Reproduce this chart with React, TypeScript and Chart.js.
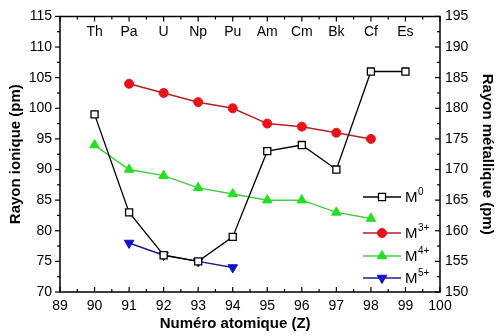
import React, { useEffect, useRef } from "react";
import { Chart, registerables } from "chart.js";
import { drawPoint } from "chart.js/helpers";

Chart.register(...registerables);

const atomicNumbers = [90, 91, 92, 93, 94, 95, 96, 97, 98, 99];
const elements = ["Th", "Pa", "U", "Np", "Pu", "Am", "Cm", "Bk", "Cf", "Es"];
const metallicRadius = [179, 163, 156, 155, 159, 173, 174, 170, 186, 186];
const m3Radius = [null, 104, 102.5, 101, 100, 97.5, 97, 96, 95, null];
const m4Radius = [94, 90, 89, 87, 86, 85, 85, 83, 82, null];
const m5Radius = [null, 78, 76, 75, 74, null, null, null, null, null];

const seriesLabels = [
  { base: "M", sup: "0" },
  { base: "M", sup: "3+" },
  { base: "M", sup: "4+" },
  { base: "M", sup: "5+" },
];

const xTitle = "Numéro atomique (Z)";
const yTitle = "Rayon ionique (pm)";
const y2Title = "Rayon métallique (pm)";

const FONT = "'Liberation Sans', Arial, Helvetica, sans-serif";

function toPoints(vals: (number | null)[]) {
  return atomicNumbers
    .map((z, i) => ({ x: z, y: vals[i] }))
    .filter((p) => p.y !== null);
}

const decorPlugin = {
  id: "decor",
  afterDraw(chart: any) {
    const { ctx, chartArea } = chart;
    const { left, right, top, bottom } = chartArea;
    const xs = chart.scales.x;
    const ys = chart.scales.y;
    const y2 = chart.scales.y2;
    ctx.save();
    ctx.strokeStyle = "#000";
    ctx.lineWidth = 1.5;
    // frame
    ctx.beginPath();
    ctx.rect(left, top, right - left, bottom - top);
    ctx.stroke();
    ctx.lineWidth = 1.2;
    // ticks left (outward)
    for (let v = ys.min; v <= ys.max + 1e-6; v += 2.5) {
      const py = ys.getPixelForValue(v);
      const major = Math.abs(v % 5) < 1e-6;
      ctx.beginPath();
      ctx.moveTo(left, py);
      ctx.lineTo(left - (major ? 5 : 3), py);
      ctx.stroke();
    }
    // ticks right (inward)
    for (let v = y2.min; v <= y2.max + 1e-6; v += 2.5) {
      const py = y2.getPixelForValue(v);
      const major = Math.abs(v % 5) < 1e-6;
      ctx.beginPath();
      ctx.moveTo(right, py);
      ctx.lineTo(right - (major ? 5 : 3), py);
      ctx.stroke();
    }
    // ticks bottom & top (inward)
    for (let v = xs.min; v <= xs.max + 1e-6; v += 0.5) {
      const px = xs.getPixelForValue(v);
      const major = Math.abs(v % 1) < 1e-6;
      const len = major ? 5 : 3;
      ctx.beginPath();
      ctx.moveTo(px, bottom);
      ctx.lineTo(px, bottom - len);
      ctx.moveTo(px, top);
      ctx.lineTo(px, top + len);
      ctx.stroke();
    }
    // element labels
    ctx.fillStyle = "#000";
    ctx.font = `14px ${FONT}`;
    ctx.textAlign = "center";
    ctx.textBaseline = "middle";
    elements.forEach((el, i) => {
      ctx.fillText(el, xs.getPixelForValue(atomicNumbers[i]), top + 16);
    });
    // axis titles
    ctx.font = `bold 15px ${FONT}`;
    ctx.fillText(xTitle, xs.getPixelForValue(94.07), bottom + 32);
    ctx.save();
    ctx.translate(16, (top + bottom) / 2);
    ctx.rotate(-Math.PI / 2);
    ctx.fillText(yTitle, 0, 0);
    ctx.restore();
    ctx.save();
    ctx.translate(487, (top + bottom) / 2);
    ctx.rotate(Math.PI / 2);
    ctx.fillText(y2Title, 0, 0);
    ctx.restore();
    // legend
    const legendYs = [bottom - 95, bottom - 59, bottom - 36, bottom - 14];
    const lx0 = right - 77;
    const lx1 = right - 39;
    const lm = (lx0 + lx1) / 2;
    chart.data.datasets.forEach((ds: any, i: number) => {
      const ly = legendYs[i];
      ctx.strokeStyle = ds.borderColor;
      ctx.lineWidth = ds.borderWidth;
      ctx.beginPath();
      ctx.moveTo(lx0, ly);
      ctx.lineTo(lx1, ly);
      ctx.stroke();
      ctx.fillStyle = ds.pointBackgroundColor;
      ctx.strokeStyle = ds.pointBorderColor;
      ctx.lineWidth = ds.pointBorderWidth;
      drawPoint(ctx, {
        pointStyle: ds.pointStyle,
        radius: ds.pointRadius,
        rotation: ds.pointRotation || 0,
        borderWidth: ds.pointBorderWidth,
      }, lm, ly);
      ctx.fillStyle = "#000";
      ctx.textAlign = "left";
      ctx.textBaseline = "middle";
      ctx.font = `15px ${FONT}`;
      const tx = right - 35;
      ctx.fillText(seriesLabels[i].base, tx, ly + 1);
      const w = ctx.measureText(seriesLabels[i].base).width;
      ctx.font = `10px ${FONT}`;
      ctx.fillText(seriesLabels[i].sup, tx + w + 0.5, ly - 5);
    });
    ctx.restore();
  },
};

export default function App() {
  const ref = useRef<HTMLCanvasElement>(null);
  useEffect(() => {
    document.body.style.margin = "0";
    Chart.defaults.font.family = FONT;
    Chart.defaults.font.size = 14;
    Chart.defaults.color = "#000";
    const chart = new Chart(ref.current!, {
      type: "line",
      data: {
        datasets: [
          {
            label: "M0",
            data: toPoints(metallicRadius),
            yAxisID: "y2",
            borderColor: "#000000",
            borderWidth: 1.3,
            pointStyle: "rect",
            pointRadius: 5,
            pointBackgroundColor: "#ffffff",
            pointBorderColor: "#000000",
            pointBorderWidth: 1.3,
          },
          {
            label: "M3+",
            data: toPoints(m3Radius),
            yAxisID: "y",
            borderColor: "#b82024",
            borderWidth: 1.5,
            pointStyle: "circle",
            pointRadius: 4.5,
            pointBackgroundColor: "#e8121a",
            pointBorderColor: "#e8121a",
            pointBorderWidth: 1,
          },
          {
            label: "M4+",
            data: toPoints(m4Radius),
            yAxisID: "y",
            borderColor: "#44cc44",
            borderWidth: 1.5,
            pointStyle: "triangle",
            pointRadius: 5.5,
            pointBackgroundColor: "#22e022",
            pointBorderColor: "#22e022",
            pointBorderWidth: 1,
          },
          {
            label: "M5+",
            data: toPoints(m5Radius),
            yAxisID: "y",
            borderColor: "#1c1c8c",
            borderWidth: 1.5,
            pointStyle: "triangle",
            pointRotation: 180,
            pointRadius: 5.5,
            pointBackgroundColor: "#1212c8",
            pointBorderColor: "#1212c8",
            pointBorderWidth: 1,
          },
        ] as any,
      },
      options: {
        animation: false,
        responsive: false,
        layout: { padding: { top: 7, left: 0, right: 0, bottom: 0 } },
        plugins: { legend: { display: false }, tooltip: { enabled: false } },
        scales: {
          x: {
            type: "linear",
            min: 89,
            max: 100,
            grid: { display: false, drawTicks: false },
            border: { display: false },
            ticks: { stepSize: 1, padding: 6, font: { size: 14 } },
            afterFit: (s: any) => { s.height = 44; },
          },
          y: {
            type: "linear",
            position: "left",
            min: 70,
            max: 115,
            grid: { display: false, drawTicks: false },
            border: { display: false },
            ticks: { stepSize: 5, padding: 8, font: { size: 14 } },
            afterFit: (s: any) => { s.width = 60; },
          },
          y2: {
            type: "linear",
            position: "right",
            min: 150,
            max: 195,
            grid: { display: false, drawTicks: false },
            border: { display: false },
            ticks: { stepSize: 5, padding: 5, font: { size: 14 } },
            afterFit: (s: any) => { s.width = 60; },
          },
        },
      } as any,
      plugins: [decorPlugin],
    });
    return () => chart.destroy();
  }, []);
  return <canvas ref={ref} width={500} height={336} style={{ display: "block" }} />;
}
